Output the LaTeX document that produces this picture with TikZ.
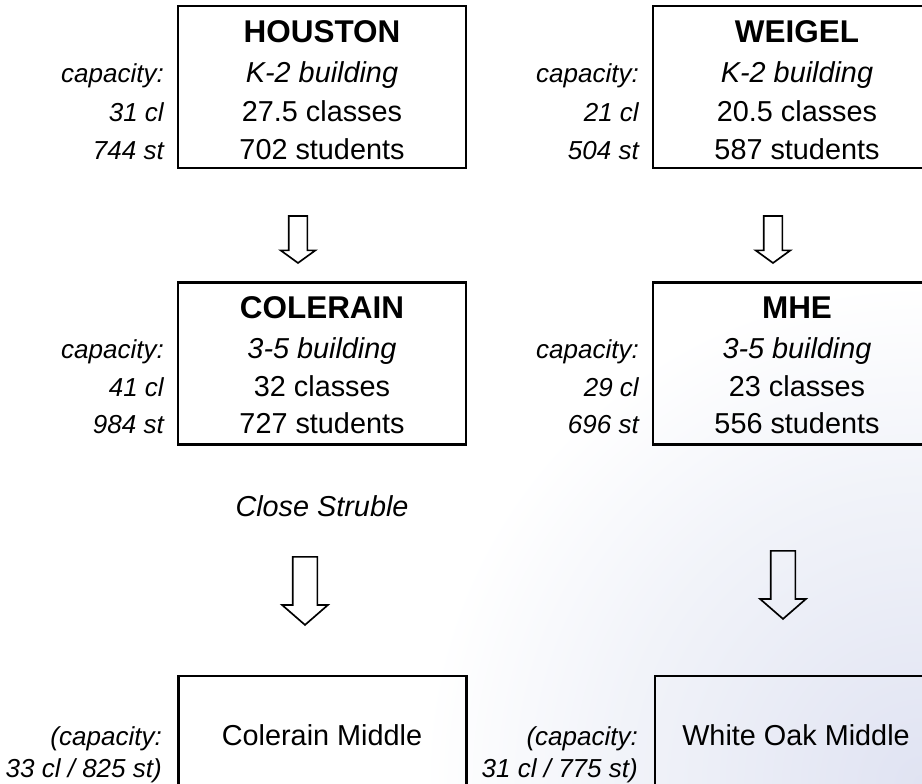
\documentclass[tikz,border=0pt]{standalone}
\usepackage{fontspec}
\setmainfont{Liberation Sans}
\usetikzlibrary{shapes.arrows}
\definecolor{shadeblue}{HTML}{E0E3F2}
\definecolor{shademid}{HTML}{F1F3F9}
\pgfdeclareradialshading{cornerfade}{\pgfpoint{0bp}{0bp}}{color(0bp)=(shadeblue); color(15bp)=(shademid); color(25bp)=(white); color(50bp)=(white)}

\tikzset{
  bldg/.style={draw, line width=1.5pt, minimum width=5.76cm, minimum height=3.24cm, inner sep=0pt},
  title/.style={font=\fontsize{17.9}{21}\selectfont\bfseries, anchor=base},
  txt/.style={font=\fontsize{16.4}{19}\selectfont, anchor=base},
  itxt/.style={font=\fontsize{16.4}{19}\selectfont\itshape, anchor=base},
  caplabel/.style={font=\fontsize{14.8}{17}\selectfont\itshape, anchor=base east},
  smallarrow/.style={draw, line width=0.95pt, single arrow, shape border rotate=270, inner sep=0.17cm, single arrow head extend=0.16cm, single arrow tip angle=108, minimum height=0.94cm, anchor=tip},
  bigarrow/.style={draw, line width=0.95pt, single arrow, shape border rotate=270, inner sep=0.23cm, single arrow head extend=0.21cm, single arrow tip angle=98, minimum height=1.36cm, anchor=tip}
}

\begin{document}
\begin{tikzpicture}
    \clip[use as bounding box] (0,0) rectangle (18.44,-15.66);
    \fill[white] (0,0) rectangle (18.44,-15.66);
    \shade[shading=cornerfade] (18.44,-15.66) circle (10cm);

    %%%%%%%%%%%%%%%%%%%%%%%%%%%%%%%%%%%%%%%%

    \node[bldg] (houston) at (6.44,-1.74) {};
    \node[title] (houname) at (6.44,-0.84) {HOUSTON};
    \node[itxt] (houtype) at (6.44,-1.64) {K-2 building};
    \node[txt] (houcl) at (6.44,-2.42) {27.5 classes};
    \node[txt] (houst) at (6.44,-3.18) {702 students};
    \node[caplabel] (houcapa) at (3.4,-1.64) {capacity:};
    \node[caplabel] (houcapcl) at (3.4,-2.42) {31 cl};
    \node[caplabel] (houcapst) at (3.4,-3.18) {744 st};

    \node[bldg] (weigel) at (15.94,-1.74) {};
    \node[title] (weiname) at (15.94,-0.84) {WEIGEL};
    \node[itxt] (weitype) at (15.94,-1.64) {K-2 building};
    \node[txt] (weicl) at (15.94,-2.42) {20.5 classes};
    \node[txt] (weist) at (15.94,-3.18) {587 students};
    \node[caplabel] (weicapa) at (12.9,-1.64) {capacity:};
    \node[caplabel] (weicapcl) at (12.9,-2.42) {21 cl};
    \node[caplabel] (weicapst) at (12.9,-3.18) {504 st};

    \node[bldg] (colerain) at (6.44,-7.27) {};
    \node[title] (colname) at (6.44,-6.36) {COLERAIN};
    \node[itxt] (coltype) at (6.44,-7.16) {3-5 building};
    \node[txt] (colcl) at (6.44,-7.92) {32 classes};
    \node[txt] (colst) at (6.44,-8.66) {727 students};
    \node[caplabel] (colcapa) at (3.4,-7.16) {capacity:};
    \node[caplabel] (colcapcl) at (3.4,-7.92) {41 cl};
    \node[caplabel] (colcapst) at (3.4,-8.66) {984 st};

    \node[bldg] (mhe) at (15.94,-7.27) {};
    \node[title] (mhename) at (15.94,-6.36) {MHE};
    \node[itxt] (mhetype) at (15.94,-7.16) {3-5 building};
    \node[txt] (mhecl) at (15.94,-7.92) {23 classes};
    \node[txt] (mhest) at (15.94,-8.66) {556 students};
    \node[caplabel] (mhecapa) at (12.9,-7.16) {capacity:};
    \node[caplabel] (mhecapcl) at (12.9,-7.92) {29 cl};
    \node[caplabel] (mhecapst) at (12.9,-8.66) {696 st};

    \node[itxt] (struble) at (6.44,-10.32) {Close Struble};

    \node[bldg] (colmid) at (6.45,-15.14) {};
    \node[txt] (colmidname) at (6.44,-14.9) {Colerain Middle};
    \node[caplabel] (colmidcapa) at (3.36,-14.9) {(capacity:};
    \node[caplabel] (colmidcap) at (3.36,-15.54) {33 cl / 825 st)};

    \node[bldg] (whiteoak) at (15.98,-15.14) {};
    \node[txt] (whiteoakname) at (15.92,-14.9) {White Oak Middle};
    \node[caplabel] (whiteoakcapa) at (12.88,-14.9) {(capacity:};
    \node[caplabel] (whiteoakcap) at (12.88,-15.54) {31 cl / 775 st)};

    %%%%%%%%%%%%%%%%%%%%%%%%%%%%%%%%%%%%%%%%

    \node[smallarrow] (houarrow) at (5.96,-5.28) {};
    \node[smallarrow] (weiarrow) at (15.46,-5.28) {};
    \node[bigarrow] (colarrow) at (6.1,-12.52) {};
    \node[bigarrow] (mhearrow) at (15.66,-12.4) {};

\end{tikzpicture}
\end{document}
